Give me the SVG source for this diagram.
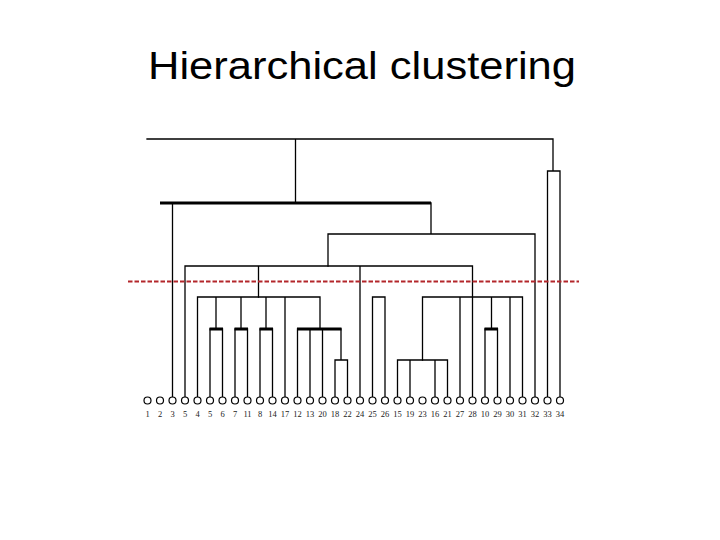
<svg xmlns="http://www.w3.org/2000/svg" width="720" height="540" viewBox="0 0 720 540">
<style>
.t{font-family:"Liberation Sans",Arial,sans-serif;font-size:38px;fill:#000}
.e{stroke:#000;stroke-width:1.3;fill:none;stroke-linecap:square}
.k{stroke:#000;stroke-width:3;fill:none}
.c{fill:#fff;stroke:#000;stroke-width:1.2}
.l{font-family:"Liberation Serif","Times New Roman",serif;font-size:8.5px;fill:#222;text-anchor:middle}
.cut{stroke:#b3262b;stroke-width:1.9;stroke-dasharray:4.5 2;fill:none}
</style>
<rect width="720" height="540" fill="#fff"/>
<text class="t" x="148" y="79" textLength="428" lengthAdjust="spacingAndGlyphs">Hierarchical clustering</text>
<g id="connectors">
<path class="e" d="M147,139H553M295.5,139V203M553,139V171M547.5,171H560M547.5,171V397M560,171V397"/>
<path class="k" d="M160,203H431"/>
<path class="e" d="M172.5,203V397M431,203V234M328,234H535M535,234V397M328,234V266"/>
<path class="e" d="M185,266H472.5M185,266V397M258.5,266V297M360,266V397M472.5,266V397"/>
<path class="e" d="M197.5,297H320M197.5,297V397M216,297V329M241,297V329M266,297V329M285,297V397M320,297V329"/>
<path class="k" d="M209.5,329H223M234.5,329H248M259.5,329H273M297,329H341.5M484.5,329H498"/>
<path class="e" d="M210,329V397M222.5,329V397M235,329V397M247.5,329V397M260,329V397M272.5,329V397M297.5,329V397M310,329V397M322.5,329V397M341,329V360M335,360H347.5M335,360V397M347.5,360V397"/>
<path class="e" d="M372.5,297H385M372.5,297V397M385,297V397"/>
<path class="e" d="M422.5,297H522.5M422.5,297V360M460,297V397M491.5,297V329M510,297V397M522.5,297V397M485,329V397M497.5,329V397"/>
<path class="e" d="M397.5,360H447.5M397.5,360V397M410,360V397M435,360V397M447.5,360V397"/>
<path class="cut" d="M128,281.5H579"/>
</g>
<g id="leaves">
<g id="n1"><circle class="c" cx="147.5" cy="400.5" r="3.5"/><text class="l" x="147.5" y="417">1</text></g>
<g id="n2"><circle class="c" cx="160" cy="400.5" r="3.5"/><text class="l" x="160" y="417">2</text></g>
<g id="n3"><circle class="c" cx="172.5" cy="400.5" r="3.5"/><text class="l" x="172.5" y="417">3</text></g>
<g id="n5a"><circle class="c" cx="185" cy="400.5" r="3.5"/><text class="l" x="185" y="417">5</text></g>
<g id="n4"><circle class="c" cx="197.5" cy="400.5" r="3.5"/><text class="l" x="197.5" y="417">4</text></g>
<g id="n5b"><circle class="c" cx="210" cy="400.5" r="3.5"/><text class="l" x="210" y="417">5</text></g>
<g id="n6"><circle class="c" cx="222.5" cy="400.5" r="3.5"/><text class="l" x="222.5" y="417">6</text></g>
<g id="n7"><circle class="c" cx="235" cy="400.5" r="3.5"/><text class="l" x="235" y="417">7</text></g>
<g id="n11"><circle class="c" cx="247.5" cy="400.5" r="3.5"/><text class="l" x="247.5" y="417">11</text></g>
<g id="n8"><circle class="c" cx="260" cy="400.5" r="3.5"/><text class="l" x="260" y="417">8</text></g>
<g id="n14"><circle class="c" cx="272.5" cy="400.5" r="3.5"/><text class="l" x="272.5" y="417">14</text></g>
<g id="n17"><circle class="c" cx="285" cy="400.5" r="3.5"/><text class="l" x="285" y="417">17</text></g>
<g id="n12"><circle class="c" cx="297.5" cy="400.5" r="3.5"/><text class="l" x="297.5" y="417">12</text></g>
<g id="n13"><circle class="c" cx="310" cy="400.5" r="3.5"/><text class="l" x="310" y="417">13</text></g>
<g id="n20"><circle class="c" cx="322.5" cy="400.5" r="3.5"/><text class="l" x="322.5" y="417">20</text></g>
<g id="n18"><circle class="c" cx="335" cy="400.5" r="3.5"/><text class="l" x="335" y="417">18</text></g>
<g id="n22"><circle class="c" cx="347.5" cy="400.5" r="3.5"/><text class="l" x="347.5" y="417">22</text></g>
<g id="n24"><circle class="c" cx="360" cy="400.5" r="3.5"/><text class="l" x="360" y="417">24</text></g>
<g id="n25"><circle class="c" cx="372.5" cy="400.5" r="3.5"/><text class="l" x="372.5" y="417">25</text></g>
<g id="n26"><circle class="c" cx="385" cy="400.5" r="3.5"/><text class="l" x="385" y="417">26</text></g>
<g id="n15"><circle class="c" cx="397.5" cy="400.5" r="3.5"/><text class="l" x="397.5" y="417">15</text></g>
<g id="n19"><circle class="c" cx="410" cy="400.5" r="3.5"/><text class="l" x="410" y="417">19</text></g>
<g id="n23"><circle class="c" cx="422.5" cy="400.5" r="3.5"/><text class="l" x="422.5" y="417">23</text></g>
<g id="n16"><circle class="c" cx="435" cy="400.5" r="3.5"/><text class="l" x="435" y="417">16</text></g>
<g id="n21"><circle class="c" cx="447.5" cy="400.5" r="3.5"/><text class="l" x="447.5" y="417">21</text></g>
<g id="n27"><circle class="c" cx="460" cy="400.5" r="3.5"/><text class="l" x="460" y="417">27</text></g>
<g id="n28"><circle class="c" cx="472.5" cy="400.5" r="3.5"/><text class="l" x="472.5" y="417">28</text></g>
<g id="n10"><circle class="c" cx="485" cy="400.5" r="3.5"/><text class="l" x="485" y="417">10</text></g>
<g id="n29"><circle class="c" cx="497.5" cy="400.5" r="3.5"/><text class="l" x="497.5" y="417">29</text></g>
<g id="n30"><circle class="c" cx="510" cy="400.5" r="3.5"/><text class="l" x="510" y="417">30</text></g>
<g id="n31"><circle class="c" cx="522.5" cy="400.5" r="3.5"/><text class="l" x="522.5" y="417">31</text></g>
<g id="n32"><circle class="c" cx="535" cy="400.5" r="3.5"/><text class="l" x="535" y="417">32</text></g>
<g id="n33"><circle class="c" cx="547.5" cy="400.5" r="3.5"/><text class="l" x="547.5" y="417">33</text></g>
<g id="n34"><circle class="c" cx="560" cy="400.5" r="3.5"/><text class="l" x="560" y="417">34</text></g>
</g>
</svg>
